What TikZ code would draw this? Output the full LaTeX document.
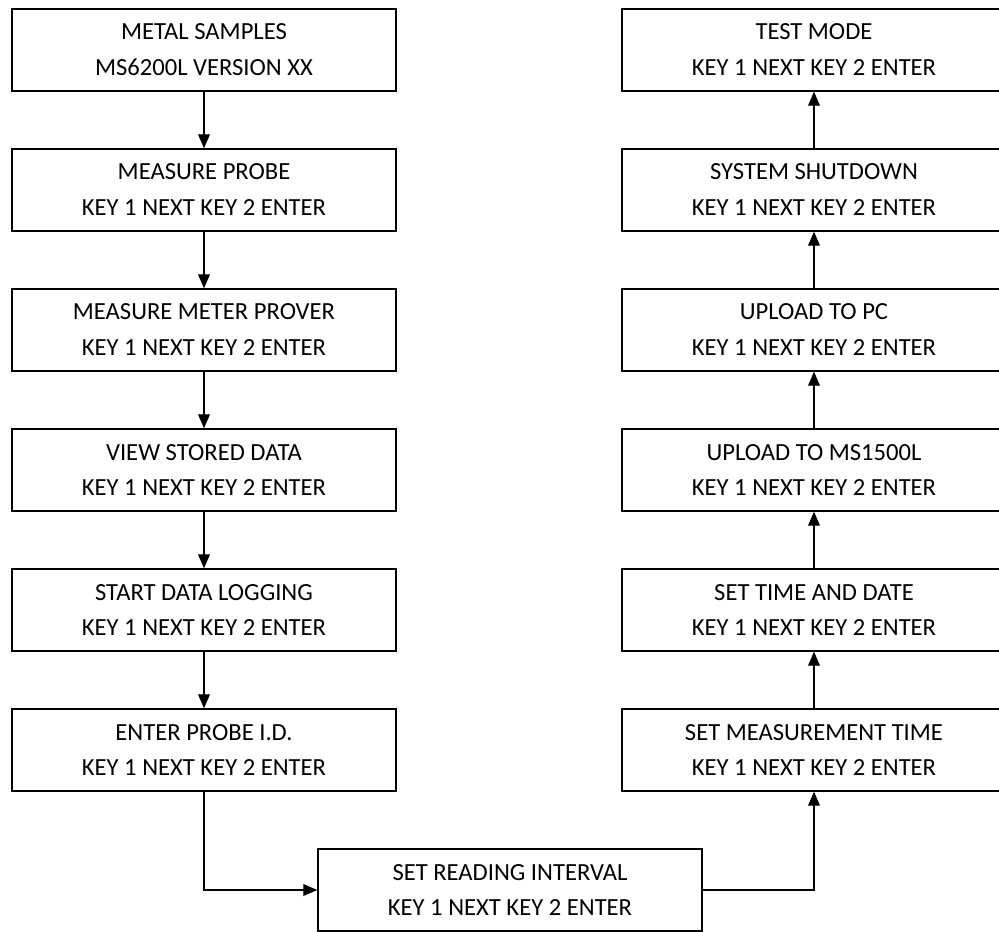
\documentclass[tikz,border=0pt]{standalone}
\usepackage{fontspec}
\setmainfont{Carlito}
\usetikzlibrary{arrows.meta}
\tikzset{
  menubox/.style={draw, line width=1.1pt, minimum width=11.52cm, minimum height=2.46cm,
    align=center, inner sep=0pt, font=\fontsize{21}{30.7}\selectfont},
  flow/.style={line width=1.1pt, -{Triangle[length=12pt,width=10pt]}}
}
\begin{document}
\begin{tikzpicture}[x=0.03cm, y=-0.03cm]
  \clip (0, 0) rectangle (999, 932);

  \node[menubox] (metal) at (204, 50) {METAL SAMPLES\\MS6200L VERSION XX};
  \node[menubox] (probe) at (204, 190) {MEASURE PROBE\\KEY 1 NEXT KEY 2 ENTER};
  \node[menubox] (prover) at (204, 330) {MEASURE METER PROVER\\KEY 1 NEXT KEY 2 ENTER};
  \node[menubox] (stored) at (204, 470) {VIEW STORED DATA\\KEY 1 NEXT KEY 2 ENTER};
  \node[menubox] (logging) at (204, 610) {START DATA LOGGING\\KEY 1 NEXT KEY 2 ENTER};
  \node[menubox] (probeid) at (204, 750) {ENTER PROBE I.D.\\KEY 1 NEXT KEY 2 ENTER};

  \node[menubox] (interval) at (510, 890) {SET READING INTERVAL\\KEY 1 NEXT KEY 2 ENTER};

  \node[menubox] (meastime) at (814, 750) {SET MEASUREMENT TIME\\KEY 1 NEXT KEY 2 ENTER};
  \node[menubox] (timedate) at (814, 610) {SET TIME AND DATE\\KEY 1 NEXT KEY 2 ENTER};
  \node[menubox] (upms) at (814, 470) {UPLOAD TO MS1500L\\KEY 1 NEXT KEY 2 ENTER};
  \node[menubox] (uppc) at (814, 330) {UPLOAD TO PC\\KEY 1 NEXT KEY 2 ENTER};
  \node[menubox] (shutdown) at (814, 190) {SYSTEM SHUTDOWN\\KEY 1 NEXT KEY 2 ENTER};
  \node[menubox] (testmode) at (814, 50) {TEST MODE\\KEY 1 NEXT KEY 2 ENTER};

  \draw[flow] (metal) -- (probe);
  \draw[flow] (probe) -- (prover);
  \draw[flow] (prover) -- (stored);
  \draw[flow] (stored) -- (logging);
  \draw[flow] (logging) -- (probeid);
  \draw[flow] (probeid.south) |- (interval.west);
  \draw[flow] (interval.east) -| (meastime.south);
  \draw[flow] (meastime) -- (timedate);
  \draw[flow] (timedate) -- (upms);
  \draw[flow] (upms) -- (uppc);
  \draw[flow] (uppc) -- (shutdown);
  \draw[flow] (shutdown) -- (testmode);
\end{tikzpicture}
\end{document}
